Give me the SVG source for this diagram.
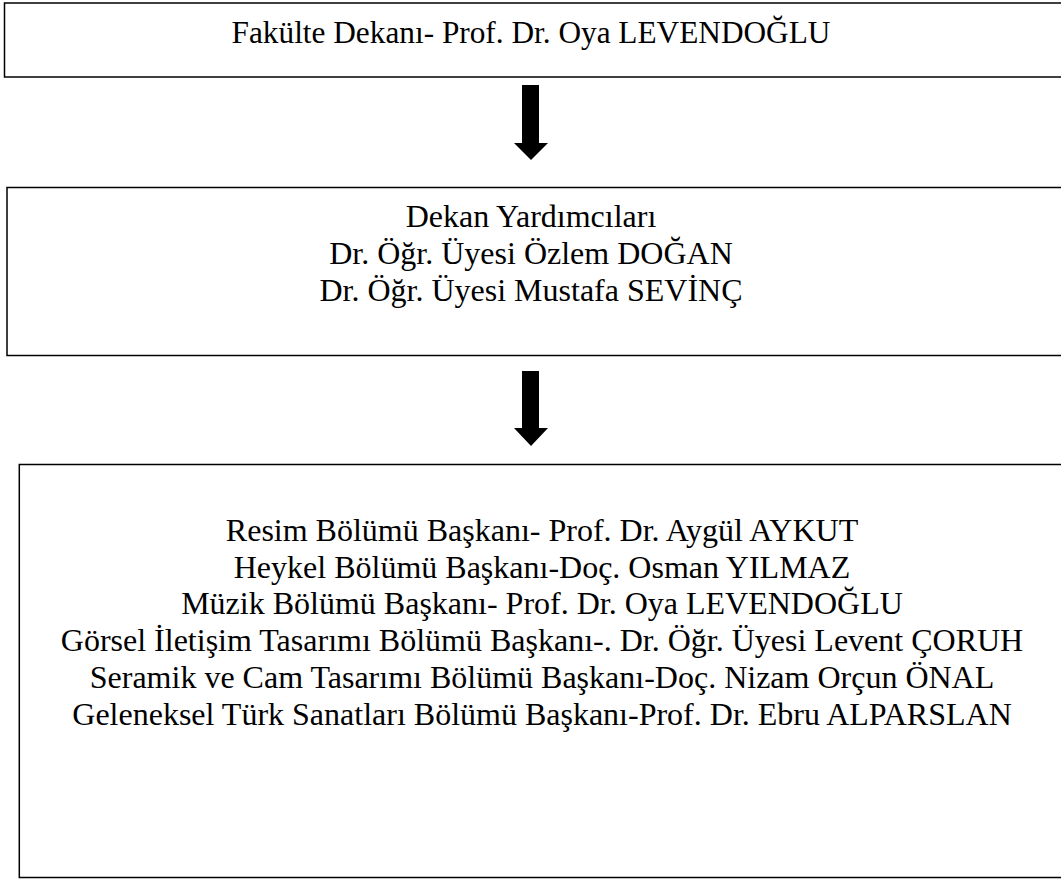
<svg xmlns="http://www.w3.org/2000/svg" width="1061" height="879" viewBox="0 0 1061 879">
<style>
.box{fill:#fff;stroke:#000;stroke-width:1.5}
.t{font-family:"Liberation Serif","Times New Roman",serif;font-size:32px;fill:#000;text-anchor:middle}
.arr{fill:#000;stroke:none}
</style>
<rect width="1061" height="879" fill="#fff"/>
<g id="node-dekan">
<rect class="box" x="4.5" y="3" width="1070" height="74"/>
<text class="t" x="531" y="43" style="font-size:31.3px">Fakülte Dekanı- Prof. Dr. Oya LEVENDOĞLU</text>
</g>
<g id="node-yardimcilar">
<rect class="box" x="7" y="187.5" width="1070" height="168"/>
<text class="t" x="531" y="227">Dekan Yardımcıları</text>
<text class="t" x="531" y="264">Dr. Öğr. Üyesi Özlem DOĞAN</text>
<text class="t" x="531" y="301">Dr. Öğr. Üyesi Mustafa SEVİNÇ</text>
</g>
<g id="node-bolumler">
<rect class="box" x="19.3" y="464.5" width="1060" height="413"/>
<text class="t" x="542" y="541">Resim Bölümü Başkanı- Prof. Dr. Aygül AYKUT</text>
<text class="t" x="542" y="577.7">Heykel Bölümü Başkanı-Doç. Osman YILMAZ</text>
<text class="t" x="542" y="614.4">Müzik Bölümü Başkanı- Prof. Dr. Oya LEVENDOĞLU</text>
<text class="t" x="542" y="651.1">Görsel İletişim Tasarımı Bölümü Başkanı-. Dr. Öğr. Üyesi Levent ÇORUH</text>
<text class="t" x="542" y="687.8">Seramik ve Cam Tasarımı Bölümü Başkanı-Doç. Nizam Orçun ÖNAL</text>
<text class="t" x="542" y="724.5">Geleneksel Türk Sanatları Bölümü Başkanı-Prof. Dr. Ebru ALPARSLAN</text>
</g>
<g id="connectors">
<polygon class="arr" points="522,85 539,85 539,143 548,143 531,160 514,143 522,143"/>
<polygon class="arr" points="522,371 539,371 539,428 548,428 531,446 514,428 522,428"/>
</g>
</svg>
